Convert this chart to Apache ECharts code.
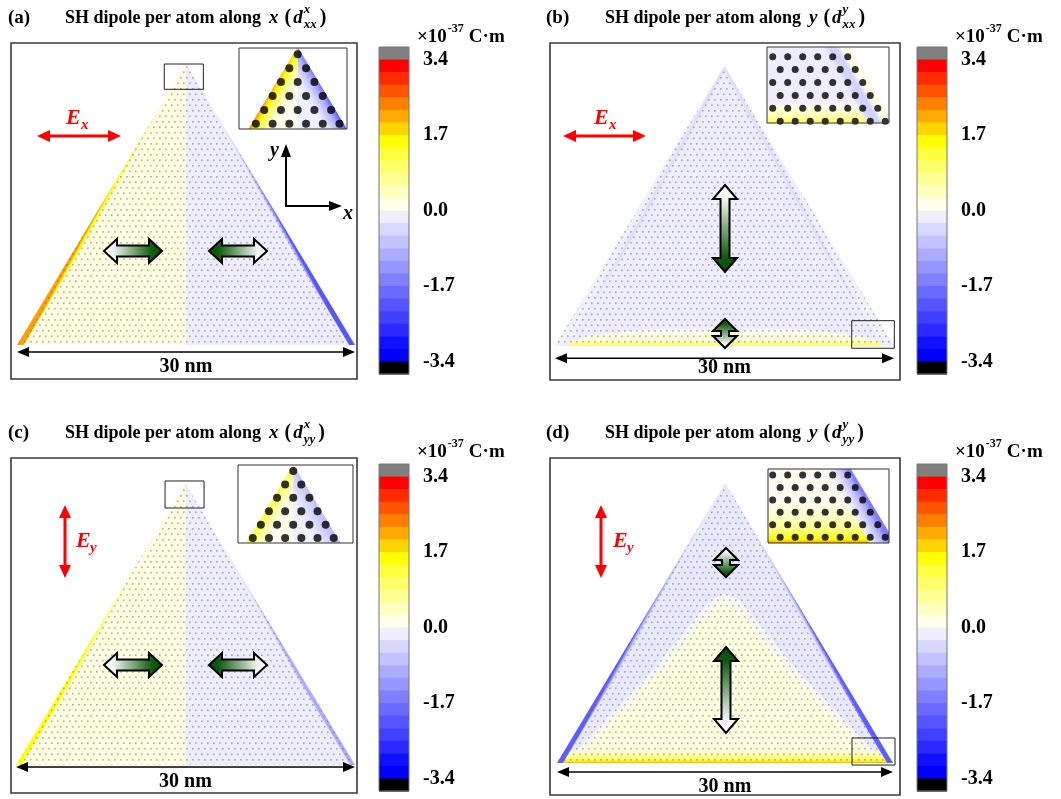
<!DOCTYPE html>
<html>
<head>
<meta charset="utf-8">
<script src="https://cdn.jsdelivr.net/npm/echarts@6.0.0/dist/echarts.min.js"></script>
<style>html,body{margin:0;padding:0;background:#fff;}#chart{width:1061px;height:799px;}</style>
</head>
<body>
<div id="chart"></div>
<script>
// ================= DATA =================
// colour scale (levels, top -> bottom) : gray = above 3.4, black = below -3.4
const cbBounds = [3.683,3.4,3.117,2.833,2.55,2.267,1.983,1.7,1.417,1.133,0.85,0.567,0.283,0,
                  -0.283,-0.567,-0.85,-1.133,-1.417,-1.7,-1.983,-2.267,-2.55,-2.833,-3.117,-3.4,-3.683];
const cbColors = ['#808080','#FF0000','#FF2A00','#FF5500','#FF8000','#FFAA00','#FFD500','#FFFF00',
                  '#FFFF40','#FFFF6A','#FFFF95','#FFFFBF','#FFFFEA','#EEEEFF','#D8D8FF','#C2C2FF',
                  '#ACACFF','#9696FF','#8080FF','#6A6AFF','#5555FF','#4040FF','#2A2AFF','#1010FF','#0000FF','#000000'];
const cbTicks = [3.4, 1.7, 0, -1.7, -3.4];
const cbUnit = ['\u00d710', '-37', 'C\u00b7m'];

const titleLetters = ['(a)', '(b)', '(c)', '(d)'];
const titleAxis = ['x', 'y', 'x', 'y'];
const titleSup = ['x', 'y', 'x', 'y'];
const titleSub = ['xx', 'xx', 'yy', 'yy'];
const fieldSub = ['x', 'x', 'y', 'y'];

// triangle (nm)
const triangleNm = [[0, 0], [30, 0], [15, 25.98]];
const scaleLabel = '30 nm';
const scaleBarX = [0, 30];
const scaleBarY = [-0.65, -1.14, -0.18, -0.84];
const scaleLabelY = [-2.03, -2.07, -1.57, -2.23];
// zoomed areas [x0, y0, x1, y1] in nm
const zoomBoxA = [13.07, 23.64, 16.54, 25.98];
const zoomBoxB = [26.26, -0.21, 30.03, 2.35];
const zoomBoxC = [13.19, 23.76, 16.64, 26.26];
const zoomBoxD = [26.34, -0.19, 30.18, 2.32];

// SH dipole values (x10^-37 C m) per region
// (a) d_xx^x
const aHalves = [0.2, -0.15];                          // left half, right half
const aLeftEdge = [[0, 2.2], [0.06, 1.9], [0.15, 1.5], [0.3, 0.8], [0.5, 0.2]];   // [depth nm, value]
const aRightEdge = [[0, -2.1], [0.08, -1.5], [0.2, -0.7], [0.45, -0.15]];
// (b) d_xx^y
const bBase = -0.15;
const bLens = [[0, 0], [30, 0], [27, 0.9], [22, 1.55], [15, 1.8], [8, 1.55], [3, 0.9]];
const bLensProfile = [[0, 1.3], [0.12, 0.8], [0.45, 0.35], [1.2, 0.15], [1.8, 0.1]];
const bSideEdge = [[0, -0.1], [0.45, -0.15], [0.7, -0.4], [0.95, -0.15]];
// (c) d_yy^x
const cHalves = [0.2, -0.15];
const cLeftEdge = [[0, 1.5], [0.07, 1.1], [0.2, 0.5], [0.4, 0.2]];
const cRightEdge = [[0, -1.0], [0.12, -0.55], [0.35, -0.15]];
// (d) d_yy^y
const dBase = -0.22;
const dDomeOuter = [[0.3, 0], [29.7, 0], [28.2, 1.2], [21.6, 8.4], [16.3, 15.1], [15, 15.7], [13.7, 15.1], [8.4, 8.4], [1.8, 1.2]];
const dDomeInner = [[0.8, 0], [29.2, 0], [27.6, 1.3], [21, 8.2], [16, 14.4], [15, 14.9], [14, 14.4], [9, 8.2], [2.4, 1.3]];
const dDomeValues = [0.03, 0.2];
const dBottomEdge = [[0, 2.2], [0.12, 1.7], [0.35, 1.0], [0.8, 0.5], [1.4, 0.2]];
const dSideEdge = [[0, -2.0], [0.08, -1.5], [0.2, -0.9], [0.45, -0.22]];

// insets (lattice units: neighbour distance = 1)
const insetTriRows = [1, 2, 3, 4, 5, 6];      // atoms per row at the apex
const insetCornerRows = [6, 6, 7, 7, 8, 8];   // atoms per row at the bottom-right corner
const aInsetTri = [[-4, -6.478], [4, -6.478], [0, 0.45]];
const aInsetHalves = [0.12, -0.12];
const aInsetLeft = [[0, 2.3], [0.1, 1.9], [0.25, 1.6], [0.45, 1.2], [0.8, 0.6], [1.3, 0.12]];
const aInsetRight = [[0, -2.0], [0.15, -1.5], [0.4, -0.9], [0.8, -0.4], [1.3, -0.12]];
const bInsetTri = [[-7.8, -4.78], [8.2, -4.78], [0.2, 9.076]];
const bInsetBase = -0.15;
const bInsetBottom = [[0, 1.5], [0.35, 1.1], [0.8, 0.5], [1.4, 0.15], [2.0, -0.15]];
const bInsetRight = [[0, 0.25], [0.45, 0.05], [0.75, -0.5], [1.2, -0.45], [1.6, -0.15]];
const cInsetTri = [[-4, -6.508], [4, -6.508], [0, 0.42]];
const cInsetHalves = [0.12, -0.12];
const cInsetLeft = [[0, 1.2], [0.3, 0.95], [0.7, 0.5], [1.2, 0.12]];
const cInsetRight = [[0, -0.8], [0.4, -0.55], [0.9, -0.3], [1.4, -0.12]];
const dInsetTri = [[-7.82, -4.73], [8.18, -4.73], [0.18, 9.126]];
const dInsetBase = 0.05;
const dInsetBottom = [[0, 2.2], [0.25, 1.6], [0.7, 1.05], [1.3, 0.6], [2.0, 0.3], [2.8, 0.1], [3.3, 0.05]];
const dInsetRight = [[0, -1.6], [0.3, -1.0], [0.7, -0.5], [1.1, -0.15], [1.5, 0.05]];

// ================= LAYOUT (pixels) =================
const mainGrids = [
  {left: 17, top: 64, width: 338, height: 281},
  {left: 555, top: 66, width: 339, height: 280},
  {left: 16, top: 484, width: 339, height: 281},
  {left: 557, top: 483, width: 336, height: 280}
];
const insetGrids = [
  {left: 239, top: 48, width: 108, height: 81},
  {left: 767, top: 47, width: 122, height: 76},
  {left: 238, top: 465, width: 115, height: 78},
  {left: 768, top: 469, width: 121, height: 74}
];
const insetRanges = [[-3.51, 2.95, -4.65, 0.39], [-0.38, 7.75, -4.45, 0.65], [-3.41, 3.69, -4.65, 0.39], [-0.31, 7.75, -4.73, 0.42]];
const cbGrids = [
  {left: 379, top: 47, width: 30, height: 327},
  {left: 917, top: 47, width: 30, height: 327},
  {left: 379, top: 464, width: 30, height: 327},
  {left: 917, top: 464, width: 30, height: 327}
];
const frames = [[11, 43, 346, 336], [550, 43, 350, 337], [11, 458, 346, 335], [550, 458, 350, 337]];
const titlePos = [[8, 65, 18], [546, 605, 18], [8, 65, 433], [546, 605, 433]];
const unitPos = [[417, 37], [955, 37], [417, 452], [955, 452]];

const SERIF = '"Liberation Serif", "Times New Roman", serif';
const SQ3 = Math.sqrt(3), ROW = SQ3 / 2;

// ================= helpers =================
function hexRgb(h) { h = h.replace('#', ''); return [parseInt(h.slice(0, 2), 16), parseInt(h.slice(2, 4), 16), parseInt(h.slice(4, 6), 16)]; }
const STEP = (cbBounds[1] - cbBounds[cbBounds.length - 2]) / 24;
function cmap(v, a) {
  let f = (cbBounds[1] - v) / STEP - 0.5;
  f = Math.max(0, Math.min(23, f));
  const i = Math.floor(f), t = f - i;
  const c0 = hexRgb(cbColors[1 + i]), c1 = hexRgb(cbColors[1 + Math.min(23, i + 1)]);
  const c = c0.map((c, k) => Math.round(c + (c1[k] - c) * t));
  return 'rgba(' + c[0] + ',' + c[1] + ',' + c[2] + ',' + (a == null ? 1 : a) + ')';
}
function geom(t) { return {BL: t[0], BR: t[1], A: t[2]}; }
function full(g, v) { return {poly: [g.BL, g.BR, g.A], v: v}; }
function leftHalf(g, v) { return {poly: [g.BL, [g.A[0], g.BL[1]], g.A], v: v}; }
function side(g, s, profile) {
  const P = s === 'L' ? g.BL : g.BR, Q = g.A;
  const n = s === 'L' ? [ROW, -0.5] : [-ROW, -0.5];
  const w = profile[profile.length - 1][0];
  const Pp = [P[0] + w / n[0], P[1]];
  const Qp = [Q[0], Q[1] + w / n[1]];
  const M = [(P[0] + Q[0]) / 2, (P[1] + Q[1]) / 2];
  return {poly: [P, Q, Qp, Pp], grad: [M, [M[0] + w * n[0], M[1] + w * n[1]]],
          stops: profile.map(p => [p[0] / w, p[1]]), fade: true};
}
function bottom(g, profile) {
  const w = profile[profile.length - 1][0];
  const y = g.BL[1];
  return {poly: [g.BL, g.BR, [g.BR[0] - w / SQ3, y + w], [g.BL[0] + w / SQ3, y + w]],
          grad: [[g.A[0], y], [g.A[0], y + w]], stops: profile.map(p => [p[0] / w, p[1]]), fade: true};
}
function lens(poly, profile) {
  const w = profile[profile.length - 1][0];
  return {poly: poly, grad: [[15, 0], [15, w]], stops: profile.map(p => [p[0] / w, p[1]]), fade: true};
}
function dots(g) { return {poly: [g.BL, g.BR, g.A], dots: true}; }

const dotCanvas = document.createElement('canvas');
dotCanvas.width = 6; dotCanvas.height = 11;
(function () {
  const c = dotCanvas.getContext('2d');
  c.fillStyle = 'rgba(95,95,95,0.5)';
  c.fillRect(0, 0, 1.6, 1.6);
  c.fillRect(3, 5.5, 1.6, 1.6);
})();
const dotPattern = {image: dotCanvas, repeat: 'repeat'};

function regionRender(list) {
  return function (params, api) {
    const r = list[params.dataIndex];
    if (!r) return null;
    const pts = r.poly.map(p => api.coord(p));
    let fill;
    if (r.dots) fill = dotPattern;
    else if (r.grad) {
      const a = api.coord(r.grad[0]), b = api.coord(r.grad[1]);
      const n = r.stops.length;
      fill = new echarts.graphic.LinearGradient(a[0], a[1], b[0], b[1],
        r.stops.map((s, i) => ({offset: s[0], color: cmap(s[1], (r.fade && i === n - 1) ? 0 : 1)})), true);
    } else fill = cmap(r.v);
    return {type: 'polygon', shape: {points: pts}, style: {fill: fill, stroke: 'none'}};
  };
}

const triMain = geom(triangleNm);
const mainRegions = [
  [full(triMain, aHalves[1]), leftHalf(triMain, aHalves[0]), side(triMain, 'L', aLeftEdge), side(triMain, 'R', aRightEdge), dots(triMain)],
  [full(triMain, bBase), lens(bLens, bLensProfile), side(triMain, 'L', bSideEdge), side(triMain, 'R', bSideEdge), dots(triMain)],
  [full(triMain, cHalves[1]), leftHalf(triMain, cHalves[0]), side(triMain, 'L', cLeftEdge), side(triMain, 'R', cRightEdge), dots(triMain)],
  [full(triMain, dBase), {poly: dDomeOuter, v: dDomeValues[0]}, {poly: dDomeInner, v: dDomeValues[1]},
   bottom(triMain, dBottomEdge), side(triMain, 'L', dSideEdge), side(triMain, 'R', dSideEdge), dots(triMain)]
];
const gA = geom(aInsetTri), gB = geom(bInsetTri), gC = geom(cInsetTri), gD = geom(dInsetTri);
const insetRegions = [
  [full(gA, aInsetHalves[1]), leftHalf(gA, aInsetHalves[0]), side(gA, 'L', aInsetLeft), side(gA, 'R', aInsetRight)],
  [full(gB, bInsetBase), bottom(gB, bInsetBottom), side(gB, 'R', bInsetRight)],
  [full(gC, cInsetHalves[1]), leftHalf(gC, cInsetHalves[0]), side(gC, 'L', cInsetLeft), side(gC, 'R', cInsetRight)],
  [full(gD, dInsetBase), bottom(gD, dInsetBottom), side(gD, 'R', dInsetRight)]
];
function triDots(rows) { const o = []; rows.forEach((n, r) => { for (let k = 0; k < n; k++) o.push([-r / 2 + k, -r * ROW]); }); return o; }
function cornerDots(rows) { const o = []; rows.forEach((n, r) => { for (let k = 0; k < n; k++) o.push([(r % 2) * 0.5 + k, -r * ROW]); }); return o; }
const insetDots = [triDots(insetTriRows), cornerDots(insetCornerRows), triDots(insetTriRows), cornerDots(insetCornerRows)];
const insetDotSize = [8, 7, 8, 7];
const zoomBoxes = [zoomBoxA, zoomBoxB, zoomBoxC, zoomBoxD];

function annotRender(k) {
  return function (params, api) {
    if (params.dataIndex === 0) {
      const b = zoomBoxes[k];
      const p0 = api.coord([b[0], b[3]]), p1 = api.coord([b[2], b[1]]);
      return {type: 'rect', shape: {x: p0[0], y: p0[1], width: p1[0] - p0[0], height: p1[1] - p0[1]},
              style: {fill: 'none', stroke: '#222', lineWidth: 1}};
    }
    const y = scaleBarY[k];
    const a = api.coord([scaleBarX[0], y]), b = api.coord([scaleBarX[1], y]);
    const L = 12, W = 5;
    const lab = api.coord([(scaleBarX[0] + scaleBarX[1]) / 2, scaleLabelY[k]]);
    return {type: 'group', children: [
      {type: 'line', shape: {x1: a[0] + L - 1, y1: a[1], x2: b[0] - L + 1, y2: b[1]}, style: {stroke: '#000', lineWidth: 1.6}},
      {type: 'polygon', shape: {points: [[a[0], a[1]], [a[0] + L, a[1] - W], [a[0] + L, a[1] + W]]}, style: {fill: '#000'}},
      {type: 'polygon', shape: {points: [[b[0], b[1]], [b[0] - L, b[1] - W], [b[0] - L, b[1] + W]]}, style: {fill: '#000'}},
      {type: 'text', x: lab[0], y: lab[1], style: {text: scaleLabel, font: 'bold 20px ' + SERIF, fill: '#000',
        align: 'center', verticalAlign: 'middle', textAlign: 'center', textVerticalAlign: 'middle'}}
    ]};
  };
}
function cbRender(params, api) {
  const i = params.dataIndex;
  if (i === cbColors.length) {
    const p0 = api.coord([0, cbBounds[0]]), p1 = api.coord([1, cbBounds[cbBounds.length - 1]]);
    return {type: 'rect', shape: {x: p0[0], y: p0[1], width: p1[0] - p0[0], height: p1[1] - p0[1]},
            style: {fill: 'none', stroke: '#777', lineWidth: 1}};
  }
  const p0 = api.coord([0, cbBounds[i]]), p1 = api.coord([1, cbBounds[i + 1]]);
  return {type: 'rect', shape: {x: p0[0], y: p0[1], width: p1[0] - p0[0], height: p1[1] - p0[1] + 0.6},
          style: {fill: cbColors[i], stroke: 'none'}};
}

// text measuring
const mctx = document.createElement('canvas').getContext('2d');
function measure(s, font) { mctx.font = font; return mctx.measureText(s).width; }
function txt(x, y, s, font, color, align) {
  return {type: 'text', x: x, y: y, z: 60, style: {text: s, font: font, fill: color || '#000',
    align: align || 'left', verticalAlign: 'middle', textAlign: align || 'left', textVerticalAlign: 'middle'}};
}

// ================= graphic annotations =================
const G = [];
frames.forEach(f => G.push({type: 'rect', z: 60, shape: {x: f[0], y: f[1], width: f[2], height: f[3]},
  style: {fill: 'none', stroke: '#3a3a3a', lineWidth: 1.6}}));
insetGrids.forEach(g => G.push({type: 'rect', z: 60, shape: {x: g.left, y: g.top, width: g.width, height: g.height},
  style: {fill: 'none', stroke: '#333', lineWidth: 1}}));
const F1 = 'bold 18px ' + SERIF, FI = 'italic bold 19px ' + SERIF, FS = 'italic bold 13px ' + SERIF;
for (let k = 0; k < 4; k++) {
  const [lx, tx, ty] = titlePos[k];
  G.push(txt(lx, ty, titleLetters[k], 'bold 19px ' + SERIF));
  let cx = tx;
  const main = 'SH dipole per atom along';
  G.push(txt(cx, ty, main, F1)); cx += measure(main, F1) + 8;
  G.push(txt(cx, ty, titleAxis[k], FI)); cx += measure(titleAxis[k], FI) + 6;
  G.push(txt(cx, ty, '(', 'bold 20px ' + SERIF)); cx += measure('(', 'bold 20px ' + SERIF) + 2;
  G.push(txt(cx, ty, 'd', FI)); cx += measure('d', FI) + 1;
  G.push(txt(cx, ty - 8, titleSup[k], FS)); G.push(txt(cx, ty + 7, titleSub[k], FS));
  cx += Math.max(measure(titleSup[k], FS), measure(titleSub[k], FS)) + 3;
  G.push(txt(cx, ty, ')', 'bold 20px ' + SERIF));
  // unit label
  const [ux, uy] = unitPos[k];
  const FU = 'bold 19px ' + SERIF, FU2 = 'bold 12px ' + SERIF;
  let ucx = ux;
  G.push(txt(ucx, uy, cbUnit[0], FU)); ucx += measure(cbUnit[0], FU) + 1;
  G.push(txt(ucx, uy - 8, cbUnit[1], FU2)); ucx += measure(cbUnit[1], FU2) + 5;
  G.push(txt(ucx, uy, cbUnit[2], FU));
}
// red field arrows
function redH(x0, x1, y) {
  const L = 13, W = 6;
  G.push({type: 'line', z: 60, shape: {x1: x0 + L - 2, y1: y, x2: x1 - L + 2, y2: y}, style: {stroke: '#ff0000', lineWidth: 3}});
  G.push({type: 'polygon', z: 60, shape: {points: [[x0, y], [x0 + L, y - W], [x0 + L, y + W]]}, style: {fill: '#ff0000'}});
  G.push({type: 'polygon', z: 60, shape: {points: [[x1, y], [x1 - L, y - W], [x1 - L, y + W]]}, style: {fill: '#ff0000'}});
}
function redV(x, y0, y1) {
  const L = 13, W = 6;
  G.push({type: 'line', z: 60, shape: {x1: x, y1: y0 + L - 2, x2: x, y2: y1 - L + 2}, style: {stroke: '#ff0000', lineWidth: 3}});
  G.push({type: 'polygon', z: 60, shape: {points: [[x, y0], [x - W, y0 + L], [x + W, y0 + L]]}, style: {fill: '#ff0000'}});
  G.push({type: 'polygon', z: 60, shape: {points: [[x, y1], [x - W, y1 - L], [x + W, y1 - L]]}, style: {fill: '#ff0000'}});
}
const FE = 'italic bold 22px ' + SERIF, FEs = 'italic bold 15px ' + SERIF;
redH(37, 121, 136); G.push(txt(66, 118, 'E', FE, '#ff0000')); G.push(txt(81, 125, fieldSub[0], FEs, '#ff0000'));
redH(563, 646, 136); G.push(txt(594, 118, 'E', FE, '#ff0000')); G.push(txt(609, 125, fieldSub[1], FEs, '#ff0000'));
redV(65, 505, 578); G.push(txt(76, 541, 'E', FE, '#ff0000')); G.push(txt(90, 548, fieldSub[2], FEs, '#ff0000'));
redV(601, 505, 578); G.push(txt(613, 541, 'E', FE, '#ff0000')); G.push(txt(627, 548, fieldSub[3], FEs, '#ff0000'));
// xy axes indicator in (a)
G.push({type: 'line', z: 60, shape: {x1: 286, y1: 206, x2: 286, y2: 155}, style: {stroke: '#000', lineWidth: 2}});
G.push({type: 'polygon', z: 60, shape: {points: [[286, 144], [281, 157], [291, 157]]}, style: {fill: '#000'}});
G.push({type: 'line', z: 60, shape: {x1: 285, y1: 206, x2: 332, y2: 206}, style: {stroke: '#000', lineWidth: 2}});
G.push({type: 'polygon', z: 60, shape: {points: [[342, 206], [329, 201], [329, 211]]}, style: {fill: '#000'}});
G.push(txt(270, 151, 'y', 'italic bold 20px ' + SERIF));
G.push(txt(343, 214, 'x', 'italic bold 20px ' + SERIF));
// green dipole arrows
function greenGrad(vertical, whiteFirst) {
  const s = whiteFirst
    ? [{offset: 0, color: '#ffffff'}, {offset: 0.18, color: '#eef4ee'}, {offset: 0.82, color: '#0f5c0f'}, {offset: 1, color: '#0a470a'}]
    : [{offset: 0, color: '#0a470a'}, {offset: 0.18, color: '#0f5c0f'}, {offset: 0.82, color: '#eef4ee'}, {offset: 1, color: '#ffffff'}];
  return new echarts.graphic.LinearGradient(0, 0, vertical ? 0 : 1, vertical ? 1 : 0, s);
}
function greenH(x0, x1, cy, whiteFirst) {
  const hl = 13, hw = 12, sw = 5.5;
  G.push({type: 'polygon', z: 60, shape: {points: [[x0, cy], [x0 + hl, cy - hw], [x0 + hl, cy - sw], [x1 - hl, cy - sw], [x1 - hl, cy - hw],
    [x1, cy], [x1 - hl, cy + hw], [x1 - hl, cy + sw], [x0 + hl, cy + sw], [x0 + hl, cy + hw]]},
    style: {fill: greenGrad(false, whiteFirst), stroke: '#000', lineWidth: 2}});
}
function greenV(cx, y0, y1, whiteFirst, hl, hw, sw) {
  G.push({type: 'polygon', z: 60, shape: {points: [[cx, y0], [cx + hw, y0 + hl], [cx + sw, y0 + hl], [cx + sw, y1 - hl], [cx + hw, y1 - hl],
    [cx, y1], [cx - hw, y1 - hl], [cx - sw, y1 - hl], [cx - sw, y0 + hl], [cx - hw, y0 + hl]]},
    style: {fill: greenGrad(true, whiteFirst), stroke: '#000', lineWidth: 2}});
}
greenH(104, 162, 251, true); greenH(209, 267, 251, false);
greenH(104, 162, 665, true); greenH(209, 267, 665, false);
greenV(725, 185, 272, true, 14, 12, 4.5); greenV(725, 319, 348, false, 12, 12, 4);
greenV(726, 548, 577, true, 12, 12, 4); greenV(726, 647, 733, false, 14, 12, 4.5);

// ================= option =================
const grids = [], xAxes = [], yAxes = [], series = [];
for (let k = 0; k < 4; k++) {
  grids.push(Object.assign({}, mainGrids[k]));
  xAxes.push({type: 'value', gridIndex: grids.length - 1, min: 0, max: 30, show: false});
  yAxes.push({type: 'value', gridIndex: grids.length - 1, min: 0, max: triangleNm[2][1], show: false});
  const gi = grids.length - 1;
  series.push({type: 'custom', xAxisIndex: gi, yAxisIndex: gi, clip: false, silent: true, z: 2,
    renderItem: regionRender(mainRegions[k]), data: mainRegions[k].map((r, i) => [i, 0])});
  series.push({type: 'custom', xAxisIndex: gi, yAxisIndex: gi, clip: false, silent: true, z: 5,
    renderItem: annotRender(k), data: [[0, 0], [1, 0]]});
}
for (let k = 0; k < 4; k++) {
  grids.push(Object.assign({show: true, backgroundColor: '#fff', borderWidth: 0}, insetGrids[k]));
  const gi = grids.length - 1, r = insetRanges[k];
  xAxes.push({type: 'value', gridIndex: gi, min: r[0], max: r[1], show: false});
  yAxes.push({type: 'value', gridIndex: gi, min: r[2], max: r[3], show: false});
  series.push({type: 'custom', xAxisIndex: gi, yAxisIndex: gi, clip: true, silent: true, z: 6,
    renderItem: regionRender(insetRegions[k]), data: insetRegions[k].map((q, i) => [i, 0])});
  series.push({type: 'scatter', xAxisIndex: gi, yAxisIndex: gi, silent: true, z: 7, clip: true,
    symbol: 'circle', symbolSize: insetDotSize[k], itemStyle: {color: '#000'}, data: insetDots[k]});
}
for (let k = 0; k < 4; k++) {
  grids.push(Object.assign({}, cbGrids[k]));
  const gi = grids.length - 1;
  xAxes.push({type: 'value', gridIndex: gi, min: 0, max: 1, show: false});
  yAxes.push({type: 'value', gridIndex: gi, min: cbBounds[cbBounds.length - 1], max: cbBounds[0], position: 'right',
    axisLine: {show: false}, splitLine: {show: false},
    axisTick: {show: true, customValues: cbTicks, length: 6, inside: false, lineStyle: {color: '#555', width: 1}},
    axisLabel: {show: true, customValues: cbTicks, margin: 14, formatter: v => Number(v).toFixed(1),
      fontFamily: SERIF, fontWeight: 'bold', fontSize: 20, color: '#000'}});
  series.push({type: 'custom', xAxisIndex: gi, yAxisIndex: gi, clip: false, silent: true, z: 3,
    renderItem: cbRender, data: cbColors.map((c, i) => [0.5, (cbBounds[i] + cbBounds[i + 1]) / 2]).concat([[0.5, 0]])});
}

const chart = echarts.init(document.getElementById('chart'), null, {renderer: 'canvas', width: 1061, height: 799});
chart.setOption({
  backgroundColor: '#ffffff',
  animation: false,
  grid: grids, xAxis: xAxes, yAxis: yAxes, series: series,
  graphic: {elements: G}
});
</script>
</body>
</html>
